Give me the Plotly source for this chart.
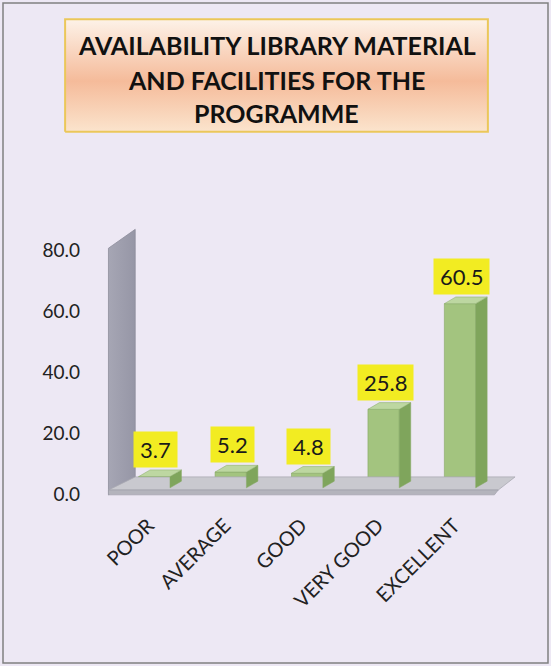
import plotly.graph_objects as go

# ---- data ----
categories = ["POOR", "AVERAGE", "GOOD", "VERY GOOD", "EXCELLENT"]
values = [3.7, 5.2, 4.8, 25.8, 60.5]
tick_values = [0, 20, 40, 60, 80]
tick_labels = ["0.0", "20.0", "40.0", "60.0", "80.0"]
title_lines = ["AVAILABILITY LIBRARY MATERIAL", "AND FACILITIES FOR THE", "PROGRAMME"]

# ---- layout geometry (pixels) ----
W, H = 551, 666
PL, PR, PT, PB = 97, 525, 226, 497          # main plot area
XR = [-0.75, 4.85]
YR = [-3, 86]
BOX = (63, 490, 17, 134)                     # title box l, r, t, b

FONT = "Lato, 'Open Sans', sans-serif"
BW, DX, DY = 0.41, 0.15, 2.2                 # bar width, 3D depth offsets (data units)

FRONT = "#a3c47f"
SIDE = "#7fa55c"
TOP = "#bdd7a1"
EDGE = "#86a864"

fig = go.Figure()

# left wall (decoration)
fig.add_trace(go.Scatter(
    x=[-0.6, -0.6, -0.25, -0.25, -0.6], y=[-2.3, 78.7, 84.9, 3.6, -2.3],
    fill="toself", mode="lines", line=dict(color="#8e8e9c", width=0.8),
    fillgradient=dict(type="horizontal", colorscale=[[0, "#a6a6b4"], [1, "#9696a6"]]),
    hoverinfo="skip", showlegend=False))
# floor top
fig.add_trace(go.Scatter(
    x=[-0.6, -0.25, 4.72, 4.5, -0.6], y=[-0.7, 3.6, 3.6, -0.7, -0.7],
    fill="toself", mode="lines", line=dict(color="#a9a9b3", width=0.8),
    fillcolor="#c9c9cf", hoverinfo="skip", showlegend=False))
# floor front strip
fig.add_trace(go.Scatter(
    x=[-0.6, -0.6, 4.5, 4.45, -0.6], y=[-2.3, -0.7, -0.7, -2.3, -2.3],
    fill="toself", mode="lines", line=dict(color="#9a9aa6", width=0.6),
    fillcolor="#b4b4bc", hoverinfo="skip", showlegend=False))

idx = list(range(len(categories)))

# front faces
fig.add_trace(go.Bar(
    x=idx, y=values, width=BW,
    marker=dict(color=FRONT, line=dict(color=EDGE, width=0.6)),
    hoverinfo="skip", showlegend=False))

# side and top faces derived from the values
for i, v in zip(idx, values):
    xr = i + BW / 2
    xl = i - BW / 2
    fig.add_trace(go.Scatter(
        x=[xr, xr + DX, xr + DX, xr, xr], y=[0, DY, v + DY, v, 0],
        fill="toself", mode="lines", line=dict(color=EDGE, width=0.5),
        fillcolor=SIDE, hoverinfo="skip", showlegend=False))
    fig.add_trace(go.Scatter(
        x=[xl, xl + DX, xr + DX, xr, xl], y=[v, v + DY, v + DY, v, v],
        fill="toself", mode="lines", line=dict(color=EDGE, width=0.5),
        fillcolor=TOP, hoverinfo="skip", showlegend=False))
    fig.add_annotation(
        x=i + 0.02, y=v + DY, xref="x", yref="y", yanchor="bottom", yshift=2,
        text=f"{v:.1f}", showarrow=False, height=23,
        font=dict(family=FONT, size=22, color="#1a1a1a"),
        bgcolor="#f2ec22", borderpad=6)

# title box with gradient on an overlay axis
fig.add_trace(go.Scatter(
    x=[0, 1, 1, 0, 0], y=[0, 0, 1, 1, 0], xaxis="x2", yaxis="y2",
    fill="toself", mode="lines", line=dict(color="#ebc75a", width=2),
    fillgradient=dict(type="vertical",
                      colorscale=[[0, "#fbe4cd"], [0.45, "#f5bb9a"], [1, "#fdf2e8"]]),
    hoverinfo="skip", showlegend=False))

line_y = [45, 80, 113]
for t, py in zip(title_lines, line_y):
    fig.add_annotation(
        x=(BOX[0] + BOX[1]) / 2 / W, y=1 - py / H, xref="paper", yref="paper",
        text=f"<b>{t}</b>", showarrow=False, xanchor="center", yanchor="middle",
        font=dict(family=FONT, size=25, color="#111111"))

# outer border
fig.add_shape(type="rect", xref="paper", yref="paper",
              x0=3 / W, x1=548 / W, y0=1 - 663 / H, y1=1 - 3 / H,
              line=dict(color="#808080", width=1.5), layer="below")

fig.update_layout(
    width=W, height=H,
    margin=dict(l=0, r=0, t=0, b=0),
    paper_bgcolor="#ede8f4", plot_bgcolor="rgba(0,0,0,0)",
    showlegend=False,
    font=dict(family=FONT, color="#222222"),
    xaxis=dict(domain=[PL / W, PR / W], range=XR, tickmode="array", tickvals=idx,
               ticktext=categories, tickangle=-45, showgrid=False, zeroline=False,
               showline=False, ticks="", ticklabelstandoff=12, ticklabelshift=-6,
               automargin=False,
               tickfont=dict(family=FONT, size=20, color="#222222"), fixedrange=True),
    yaxis=dict(domain=[1 - PB / H, 1 - PT / H], range=YR, tickmode="array",
               tickvals=tick_values, ticktext=tick_labels, showgrid=False,
               zeroline=False, showline=False, ticks="", ticklabelstandoff=16,
               ticklabelshift=6, automargin=False,
               tickfont=dict(family=FONT, size=19, color="#222222"), fixedrange=True),
    xaxis2=dict(domain=[BOX[0] / W, BOX[1] / W], range=[-0.005, 1.005], visible=False,
                anchor="y2", fixedrange=True),
    yaxis2=dict(domain=[1 - BOX[3] / H, 1 - BOX[2] / H], range=[-0.02, 1.02],
                visible=False, anchor="x2", fixedrange=True),
)

fig.write_html("out.html", config={"displayModeBar": False},
               post_script="document.body.style.margin='0px';document.body.style.padding='0px';")
